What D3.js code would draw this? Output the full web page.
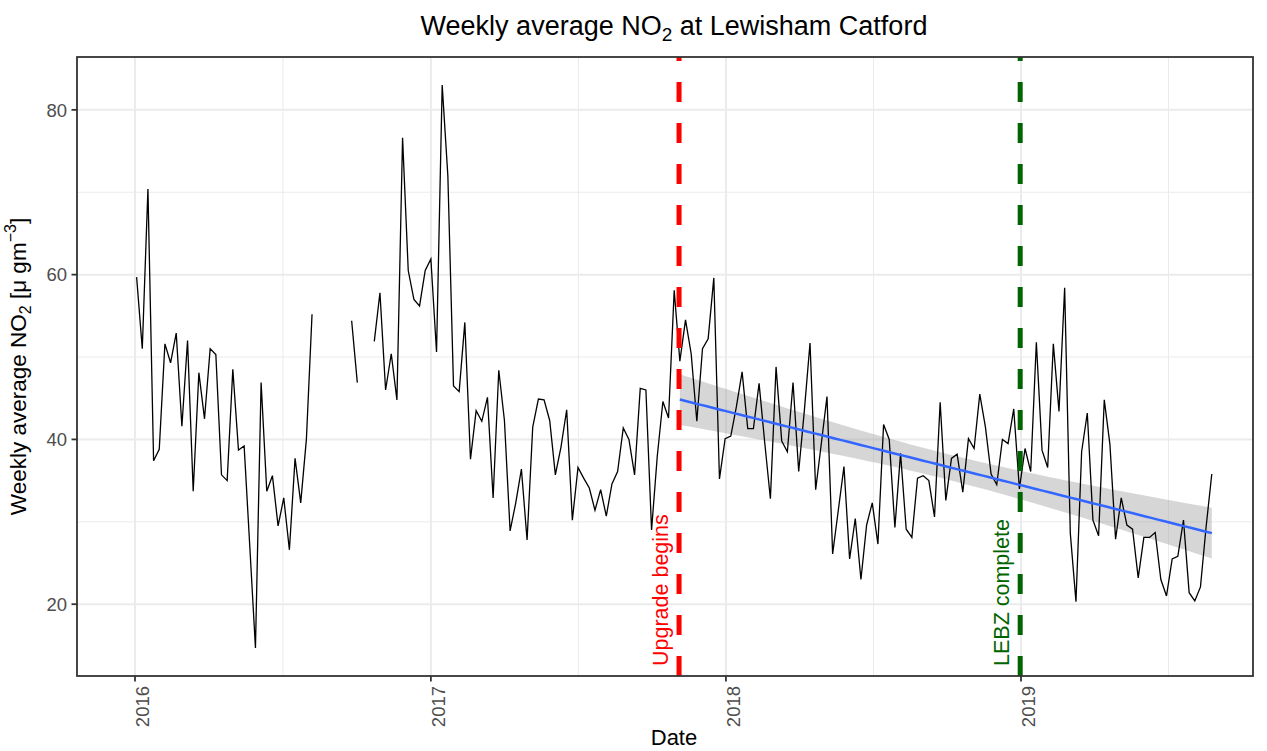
<!DOCTYPE html>
<html>
<head>
<meta charset="utf-8">
<script src="https://cdn.jsdelivr.net/npm/d3@7"></script>
<style>
  body { margin: 0; background: #fff; }
  svg { display: block; font-family: "Liberation Sans", Arial, sans-serif; }
</style>
</head>
<body>
<svg id="chart" width="1267" height="751"></svg>
<script>
// weekly means, one value per week from weekStart, null = no data that week
var weekStart = "2016-01-03";
var no2 = [
  59.7, 51.0, 70.4, 37.4, 38.8, 51.6, 49.3, 52.9, 41.6, 52.0,
  33.7, 48.1, 42.5, 51.0, 50.3, 35.7, 35.0, 48.5, 38.7, 39.2,
  27.0, 14.7, 46.9, 33.7, 35.6, 29.5, 32.9, 26.6, 37.7, 32.3,
  40.0, 55.2, null, null, null, null, null, null, 54.4, 46.9,
  null, null, 51.9, 57.8, 46.0, 50.4, 44.8, 76.6, 60.5, 57.0,
  56.2, 60.5, 61.9, 50.6, 83.0, 72.0, 46.5, 45.8, 54.2, 37.6,
  43.5, 42.2, 45.1, 32.9, 48.4, 42.3, 28.9, 32.3, 36.4, 27.8,
  41.5, 44.9, 44.8, 42.3, 35.7, 39.1, 43.6, 30.2, 36.6, 35.3,
  34.1, 31.4, 33.9, 30.7, 34.6, 36.1, 41.4, 40.0, 35.7, 46.2,
  46.0, 29.0, 37.9, 44.6, 42.6, 58.1, 49.5, 54.5, 50.4, 42.2,
  51.0, 52.2, 59.6, 35.2, 40.1, 40.4, 44.0, 48.2, 41.3, 41.3,
  46.8, 39.6, 32.8, 48.8, 39.8, 38.5, 46.9, 36.1, 43.5, 51.7,
  33.9, 39.5, 45.2, 26.1, 31.4, 36.7, 25.5, 30.4, 23.0, 29.6,
  32.3, 27.3, 41.8, 40.0, 29.3, 38.3, 29.1, 28.1, 35.3, 35.6,
  35.0, 30.6, 44.5, 32.6, 37.7, 38.2, 33.6, 40.1, 38.9, 45.5,
  41.5, 35.8, 34.5, 40.0, 39.5, 43.7, 34.0, 38.9, 36.1, 51.8,
  38.7, 36.6, 51.6, 43.4, 58.4, 28.6, 20.3, 38.5, 43.2, 30.2,
  28.3, 44.8, 39.4, 27.9, 32.9, 29.6, 29.1, 23.2, 28.1, 28.1,
  28.7, 23.0, 21.0, 25.5, 25.8, 30.2, 21.4, 20.4, 22.1, 29.4,
  35.8
];
var yearTicks = ["2016-01-01", "2017-01-01", "2018-01-01", "2019-01-01"];
var yTicks = [20, 40, 60, 80];
var upgradeDate = "2017-11-04";
var lebzDate = "2018-12-31";
var eventLabels = ["Upgrade begins", "LEBZ complete"];
var tCrit = 1.986; // qt(0.975, n - 2) for the 95% band

var panel = { left: 77, right: 1253, top: 57, bottom: 676 };
var parse = d3.utcParse("%Y-%m-%d");
var svg = d3.select("#chart");

var data = no2.map(function(v, i) {
  return { date: d3.utcDay.offset(parse(weekStart), 7 * i), value: v };
});

// x calibrated on the year ticks, then stretched to the panel edges
var x = d3.scaleUtc()
  .domain([parse(yearTicks[0]), parse(yearTicks[3])])
  .range([135, 1021]);
x.domain([x.invert(panel.left), x.invert(panel.right)]).range([panel.left, panel.right]);

// ggplot style 5% expansion of the value range
var ext = d3.extent(no2.filter(function(v) { return v != null; }));
var pad = (ext[1] - ext[0]) * 0.05;
var y = d3.scaleLinear()
  .domain([ext[0] - pad, ext[1] + pad])
  .range([panel.bottom, panel.top]);

svg.append("defs").append("clipPath").attr("id", "clip")
  .append("rect")
  .attr("x", panel.left).attr("y", panel.top)
  .attr("width", panel.right - panel.left)
  .attr("height", panel.bottom - panel.top);

// grid: minor lines halfway between the majors
var majX = yearTicks.map(parse);
var minX = d3.range(2015, 2020).map(function(yr) {
  var a = Date.UTC(yr, 0, 1), b = Date.UTC(yr + 1, 0, 1);
  return new Date((a + b) / 2);
}).filter(function(d) { return d > x.domain()[0] && d < x.domain()[1]; });
var minY = [10, 30, 50, 70].filter(function(v) { return v > y.domain()[0] && v < y.domain()[1]; });

var grid = svg.append("g");
grid.selectAll(".minx").data(minX).enter().append("line")
  .attr("x1", x).attr("x2", x)
  .attr("y1", panel.top).attr("y2", panel.bottom)
  .attr("stroke", "#ebebeb").attr("stroke-width", 1);
grid.selectAll(".miny").data(minY).enter().append("line")
  .attr("x1", panel.left).attr("x2", panel.right)
  .attr("y1", y).attr("y2", y)
  .attr("stroke", "#ebebeb").attr("stroke-width", 1);
grid.selectAll(".majx").data(majX).enter().append("line")
  .attr("x1", x).attr("x2", x)
  .attr("y1", panel.top).attr("y2", panel.bottom)
  .attr("stroke", "#ebebeb").attr("stroke-width", 2);
grid.selectAll(".majy").data(yTicks).enter().append("line")
  .attr("x1", panel.left).attr("x2", panel.right)
  .attr("y1", y).attr("y2", y)
  .attr("stroke", "#ebebeb").attr("stroke-width", 2);

var plot = svg.append("g").attr("clip-path", "url(#clip)");

// linear fit after the upgrade starts, with 95% confidence band
var start = parse(upgradeDate);
var fit = data.filter(function(d) { return d.value != null && d.date >= start; });
var t0 = fit[0].date;
var fx = fit.map(function(d) { return (d.date - t0) / 864e5; });
var fy = fit.map(function(d) { return d.value; });
var n = fit.length;
var mx = d3.mean(fx), my = d3.mean(fy);
var sxx = d3.sum(fx, function(v) { return (v - mx) * (v - mx); });
var sxy = d3.sum(fx, function(v, i) { return (v - mx) * (fy[i] - my); });
var slope = sxy / sxx;
var icpt = my - slope * mx;
var rss = d3.sum(fx, function(v, i) { var r = fy[i] - (icpt + slope * v); return r * r; });
var s = Math.sqrt(rss / (n - 2));

var smooth = d3.range(80).map(function(k) {
  var dx = fx[0] + (fx[n - 1] - fx[0]) * k / 79;
  var se = s * Math.sqrt(1 / n + (dx - mx) * (dx - mx) / sxx);
  var fv = icpt + slope * dx;
  return { date: new Date(+t0 + dx * 864e5), fit: fv, lo: fv - tCrit * se, hi: fv + tCrit * se };
});

plot.append("path")
  .datum(smooth)
  .attr("fill", "#999999")
  .attr("fill-opacity", 0.4)
  .attr("d", d3.area()
    .x(function(d) { return x(d.date); })
    .y0(function(d) { return y(d.lo); })
    .y1(function(d) { return y(d.hi); }));

// the weekly series, broken where weeks are missing
plot.append("path")
  .datum(data)
  .attr("fill", "none")
  .attr("stroke", "#000")
  .attr("stroke-width", 1.3)
  .attr("stroke-linejoin", "miter")
  .attr("d", d3.line()
    .defined(function(d) { return d.value != null; })
    .x(function(d) { return x(d.date); })
    .y(function(d) { return y(d.value); }));

plot.append("path")
  .datum(smooth)
  .attr("fill", "none")
  .attr("stroke", "#3366FF")
  .attr("stroke-width", 2.5)
  .attr("d", d3.line()
    .x(function(d) { return x(d.date); })
    .y(function(d) { return y(d.fit); }));

// event lines, dashes counted from the bottom of the panel
var events = [
  { date: parse(upgradeDate), label: eventLabels[0], color: "#ff0000" },
  { date: parse(lebzDate), label: eventLabels[1], color: "#006400" }
];
plot.selectAll(".vline").data(events).enter().append("line")
  .attr("x1", function(d) { return x(d.date); })
  .attr("x2", function(d) { return x(d.date); })
  .attr("y1", panel.bottom).attr("y2", panel.top - 10)
  .attr("stroke", function(d) { return d.color; })
  .attr("stroke-width", 5)
  .attr("stroke-dasharray", "20,21");

svg.selectAll(".evlabel").data(events).enter().append("text")
  .attr("transform", function(d) {
    return "translate(" + (x(d.date) - 11) + "," + (panel.bottom - 10) + ") rotate(-90)";
  })
  .attr("fill", function(d) { return d.color; })
  .attr("font-size", 21.5)
  .text(function(d) { return d.label; });

// panel border
svg.append("rect")
  .attr("x", panel.left).attr("y", panel.top)
  .attr("width", panel.right - panel.left)
  .attr("height", panel.bottom - panel.top)
  .attr("fill", "none")
  .attr("stroke", "#333333")
  .attr("stroke-width", 1.8);

// y axis
var yAxis = svg.append("g");
yAxis.selectAll("line").data(yTicks).enter().append("line")
  .attr("x1", panel.left - 5.5).attr("x2", panel.left)
  .attr("y1", y).attr("y2", y)
  .attr("stroke", "#333333").attr("stroke-width", 1.8);
yAxis.selectAll("text").data(yTicks).enter().append("text")
  .attr("x", panel.left - 10)
  .attr("y", y)
  .attr("dy", "0.36em")
  .attr("text-anchor", "end")
  .attr("font-size", 18.5)
  .attr("fill", "#4d4d4d")
  .text(function(d) { return d; });

// x axis, labels turned to read upwards
var xAxis = svg.append("g");
xAxis.selectAll("line").data(majX).enter().append("line")
  .attr("x1", x).attr("x2", x)
  .attr("y1", panel.bottom).attr("y2", panel.bottom + 5.5)
  .attr("stroke", "#333333").attr("stroke-width", 1.8);
xAxis.selectAll("text").data(majX).enter().append("text")
  .attr("transform", function(d) {
    return "translate(" + (x(d) + 14) + "," + (panel.bottom + 10) + ") rotate(-90)";
  })
  .attr("text-anchor", "end")
  .attr("font-size", 18.5)
  .attr("fill", "#4d4d4d")
  .text(d3.utcFormat("%Y"));

// titles
var title = svg.append("text")
  .attr("x", 674).attr("y", 35)
  .attr("text-anchor", "middle")
  .attr("font-size", 27)
  .attr("fill", "#000");
title.append("tspan").text("Weekly average NO");
title.append("tspan").attr("dy", 6).attr("font-size", 19).text("2");
title.append("tspan").attr("dy", -6).text(" at Lewisham Catford");

svg.append("text")
  .attr("x", 674).attr("y", 745)
  .attr("text-anchor", "middle")
  .attr("font-size", 22)
  .attr("fill", "#000")
  .text("Date");

var ytitle = svg.append("text")
  .attr("transform", "translate(26," + ((panel.top + panel.bottom) / 2) + ") rotate(-90)")
  .attr("text-anchor", "middle")
  .attr("font-size", 22.5)
  .attr("fill", "#000");
ytitle.append("tspan").text("Weekly average NO");
ytitle.append("tspan").attr("dy", 5).attr("font-size", 16).text("2");
ytitle.append("tspan").attr("dy", -5).text(" [\u03bc gm");
ytitle.append("tspan").attr("dy", -10).attr("font-size", 16).text("\u22123");
ytitle.append("tspan").attr("dy", 10).text("]");
</script>
</body>
</html>
